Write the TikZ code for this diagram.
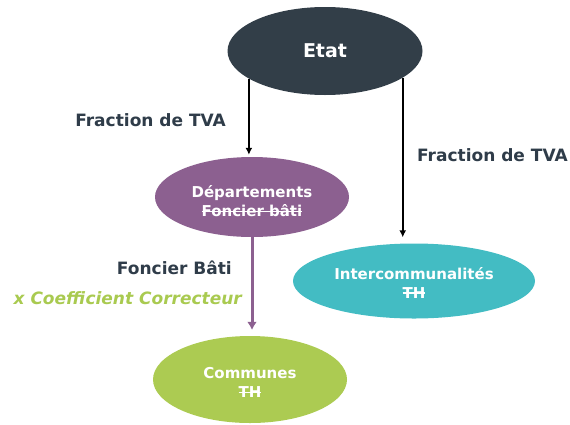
\documentclass[tikz,border=0pt]{standalone}
\usepackage{fontspec}
\setmainfont{DejaVu Sans}
\usetikzlibrary{shapes.geometric,arrows.meta}
\definecolor{etatc}{HTML}{323E48}
\definecolor{depc}{HTML}{8C6090}
\definecolor{interc}{HTML}{43BCC3}
\definecolor{comc}{HTML}{ACCB52}
\definecolor{labc}{HTML}{2F3C49}
\definecolor{greenlab}{HTML}{A9CA50}
% struck-out text
\newsavebox\strkbox
\newcommand\strk[1]{\sbox\strkbox{#1}\rlap{\usebox\strkbox}\raisebox{0.3em}{\rule{\wd\strkbox}{1.2pt}}}
\tikzset{
  blob/.style={ellipse, inner sep=0pt},
  blobtext/.style={text=white, align=center, inner sep=0pt,
    font=\bfseries\fontsize{15}{19}\selectfont},
  lab/.style={font=\bfseries\fontsize{17}{20}\selectfont, text=labc, inner sep=0pt},
  flow/.style={line width=2pt, -{Latex[length=7pt,width=7pt]}},
}
\begin{document}
\begin{tikzpicture}[x=1pt,y=-1pt]
\useasboundingbox (0,0) rectangle (570,424);
% organisations
\node[blob, fill=etatc, minimum width=195pt, minimum height=88pt,
      text=white, font=\bfseries\fontsize{19}{24}\selectfont] (etat) at (325,51) {Etat};
\node[blob, fill=depc, minimum width=194pt, minimum height=80pt,
      label={[blobtext, yshift=-4pt]center:{Départements\\\strk{Foncier bâti}}}]
      (dep) at (252,197) {};
\node[blob, fill=interc, minimum width=242pt, minimum height=75pt,
      label={[blobtext, yshift=-1.5pt]center:{Intercommunalités\\\strk{TH}}}]
      (inter) at (414,281) {};
\node[blob, fill=comc, minimum width=194pt, minimum height=87pt,
      label={[blobtext, yshift=-3pt]center:{Communes\\\strk{TH}}}]
      (com) at (250,379.5) {};
% transfers
\draw[flow, shorten >=2pt] (etat.200.5) -- (etat.200.5 |- dep.north);
\draw[flow, shorten >=6pt] (etat.341.9) -- (etat.341.9 |- inter.north);
\draw[flow, line width=3pt, draw=depc, -{Latex[length=8pt,width=10pt,fill=depc]}, shorten >=6pt]
  (dep.south) -- (dep.south |- com.north);
% labels
\node[lab, anchor=east] (l1) at (226,120) {Fraction de TVA};
\node[lab, anchor=west] (l2) at (417,155) {Fraction de TVA};
\node[lab, anchor=east] (l3) at (232,268) {Foncier Bâti};
\node[lab, anchor=east, text=greenlab, font=\bfseries\itshape\fontsize{17}{20}\selectfont] (l4) at (242,298) {x Coefficient Correcteur};
\end{tikzpicture}
\end{document}
